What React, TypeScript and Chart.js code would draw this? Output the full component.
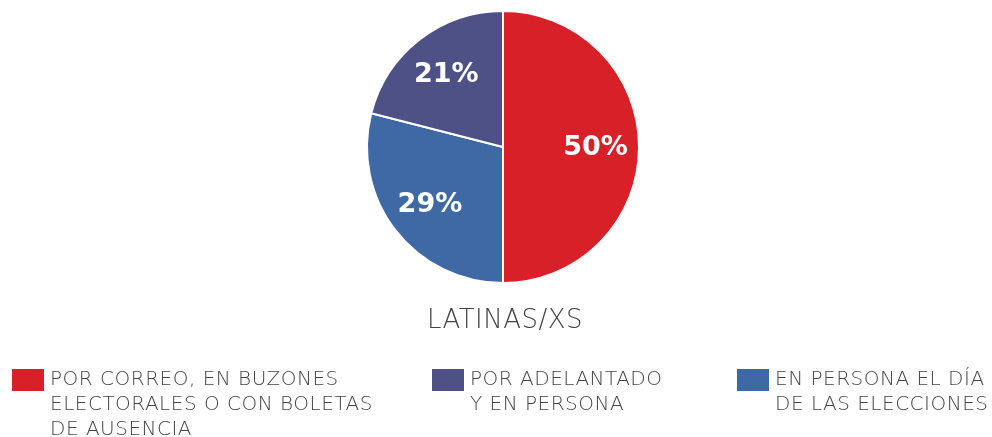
import React, { useEffect, useRef } from "react";
import { Chart, registerables } from "chart.js";

Chart.register(...registerables);

const categories = [
  "POR CORREO, EN BUZONES ELECTORALES O CON BOLETAS DE AUSENCIA",
  "EN PERSONA EL DÍA DE LAS ELECCIONES",
  "POR ADELANTADO Y EN PERSONA",
];
const values = [50, 29, 21];
const sliceColors = ["#D72027", "#3F69A5", "#4E5185"];
const chartTitle = "LATINAS/XS";

// legend shown in this order (left to right)
const legendOrder = [0, 2, 1];
const legendLines = [
  ["POR CORREO, EN BUZONES", "ELECTORALES O CON BOLETAS", "DE AUSENCIA"],
  ["EN PERSONA EL DÍA", "DE LAS ELECCIONES"],
  ["POR ADELANTADO", "Y EN PERSONA"],
];

const FONT = "'DejaVu Sans'";

const overlayPlugin = {
  id: "overlay",
  afterDatasetsDraw(chart: any) {
    const ctx = chart.ctx as CanvasRenderingContext2D;
    const meta = chart.getDatasetMeta(0);
    ctx.save();
    // percentage labels
    ctx.fillStyle = "#ffffff";
    ctx.font = `bold 27px 'DejaVu Sans'`;
    ctx.textAlign = "center";
    ctx.textBaseline = "middle";
    meta.data.forEach((arc: any, i: number) => {
      const p = arc.getProps(["x", "y", "startAngle", "endAngle", "outerRadius"], true);
      const mid = (p.startAngle + p.endAngle) / 2;
      const r = p.outerRadius * 0.68;
      ctx.fillText(values[i] + "%", p.x + Math.cos(mid) * r, p.y + Math.sin(mid) * r + 1);
    });
    // title
    ctx.fillStyle = "#444444";
    ctx.font = `300 26px ${FONT}`;
    (ctx as any).letterSpacing = "0.5px";
    ctx.textAlign = "center";
    ctx.textBaseline = "alphabetic";
    ctx.fillText(chartTitle, 505, 328);
    // legend
    const xs = [12, 432, 737];
    ctx.textAlign = "left";
    ctx.font = `300 20px ${FONT}`;
    (ctx as any).letterSpacing = "0.5px";
    legendOrder.forEach((idx, k) => {
      const x = xs[k];
      ctx.fillStyle = sliceColors[idx];
      ctx.fillRect(x, 369, 32, 22);
      ctx.fillStyle = "#444444";
      legendLines[idx].forEach((line, j) => {
        ctx.fillText(line, x + 38, 385 + j * 25);
      });
    });
    ctx.restore();
  },
};

export default function App() {
  const ref = useRef<HTMLCanvasElement | null>(null);
  useEffect(() => {
    if (!ref.current) return;
    const chart = new Chart(ref.current, {
      type: "pie",
      data: {
        labels: categories,
        datasets: [
          {
            data: values,
            backgroundColor: sliceColors,
            borderColor: "#ffffff",
            borderWidth: 2,
          },
        ],
      },
      options: {
        responsive: false,
        animation: false,
        layout: { padding: { top: 10, bottom: 153, left: 14, right: 0 } },
        plugins: {
          legend: { display: false },
          title: { display: false },
          tooltip: { enabled: false },
        },
      },
      plugins: [overlayPlugin],
    });
    return () => chart.destroy();
  }, []);
  return (
    <div style={{ position: "fixed", left: 0, top: 0, width: 992, height: 437, background: "#fff" }}>
      <canvas ref={ref} width={992} height={437} />
    </div>
  );
}
